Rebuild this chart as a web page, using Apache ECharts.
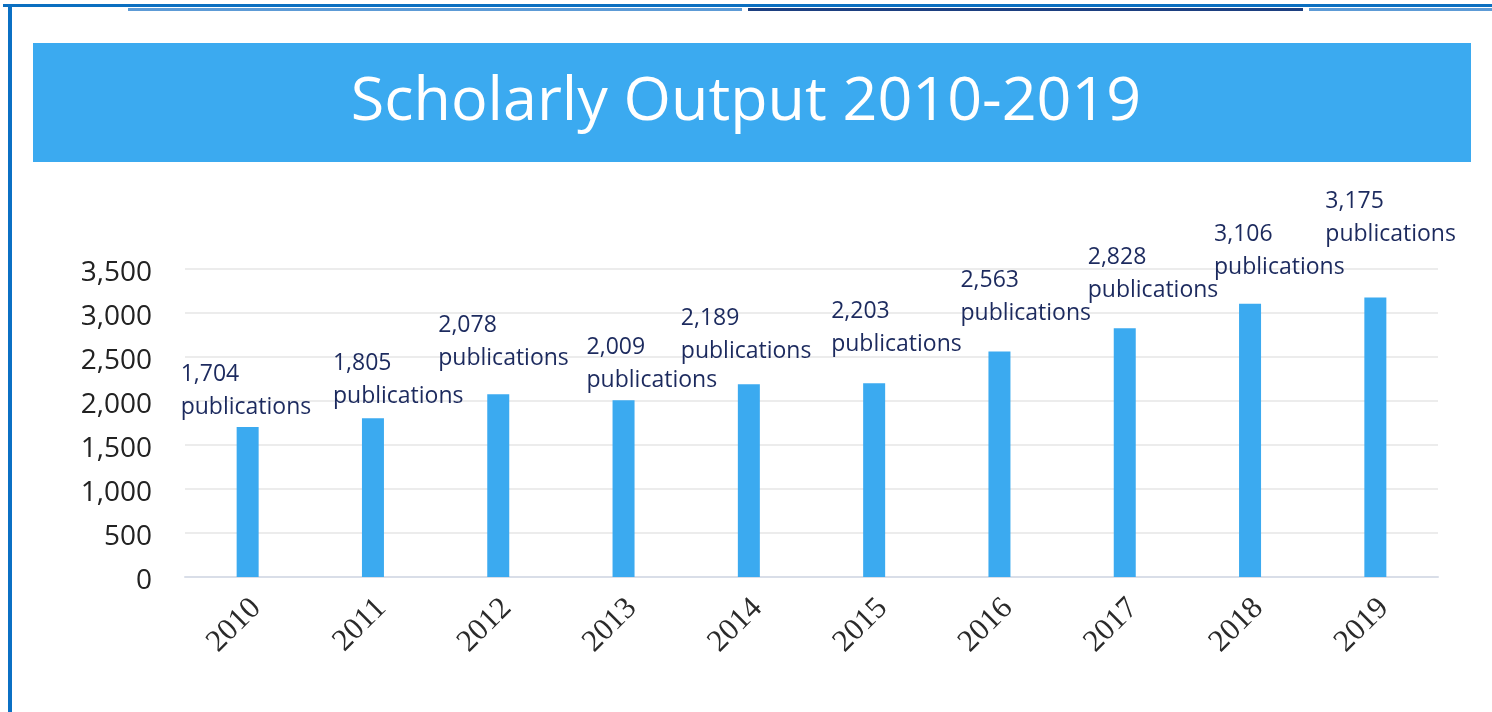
<!DOCTYPE html>
<html><head><meta charset="utf-8">
<script src="https://cdn.jsdelivr.net/npm/echarts@6/dist/echarts.min.js"></script>
<style>html,body{margin:0;padding:0;background:#fff;}#c{width:1492px;height:712px;}</style>
</head><body><div id="c"></div>
<script>
const years = ['2010','2011','2012','2013','2014','2015','2016','2017','2018','2019'];
const publications = [1704,1805,2078,2009,2189,2203,2563,2828,3106,3175];
const titleText = 'Scholarly Output 2010-2019';
const labelSuffix = 'publications';
// hand-placed label nudges (px, relative to each bar's top centre), as in the source figure
const labelDx = [-67,-40,-60,-37,-68,-43,-39,-37,-36,-50];
const labelDy = [-3.5,-5.7,-19.6,-3.7,-16.9,-22.6,-22,-21.6,-20.2,-47.1];

const chart = echarts.init(document.getElementById('c'), null, {renderer:'canvas'});
const fmt = v => Number(v).toLocaleString('en-US');
chart.setOption({
  animation:false,
  backgroundColor:'#ffffff',
  graphic:[
    {type:'rect', z:-1, shape:{x:3,y:4,width:1489,height:3}, style:{fill:'#0b6fc0'}},
    {type:'rect', z:-1, shape:{x:128,y:8,width:614,height:3}, style:{fill:'#5d9bd6'}},
    {type:'rect', z:-1, shape:{x:748,y:8,width:555,height:3}, style:{fill:'#1d3f80'}},
    {type:'rect', z:-1, shape:{x:1309,y:8,width:183,height:3}, style:{fill:'#5d9bd6'}},
    {type:'rect', z:-1, shape:{x:8,y:4,width:4,height:708}, style:{fill:'#0b70c4'}},
    {type:'rect', z:-1, shape:{x:33,y:43,width:1438,height:119}, style:{fill:'#3baaf0'}}
  ],
  title:{
    text:titleText, left:'center', top:67,
    textStyle:{color:'#ffffff', fontFamily:'Open Sans', fontSize:61, fontWeight:'normal'}
  },
  grid:{left:185, right:54, top:269, bottom:135},
  xAxis:{
    type:'category', data:years,
    axisLine:{lineStyle:{color:'#d9dee8', width:2}},
    axisTick:{show:false},
    axisLabel:{rotate:45, margin:18, verticalAlign:'top', lineHeight:24,
      color:'#2a2a2a', fontFamily:'Liberation Serif', fontSize:31}
  },
  yAxis:{
    type:'value', min:0, max:3500, interval:500,
    axisLine:{show:false}, axisTick:{show:false},
    splitLine:{lineStyle:{color:'#e6e6e6', width:1.5}},
    axisLabel:{margin:33, verticalAlign:'top', lineHeight:30, padding:[-11,0,0,0],
      color:'#222222', fontFamily:'Open Sans', fontSize:28, formatter:v=>fmt(v)}
  },
  series:[{
    type:'bar', barWidth:22,
    itemStyle:{color:'#3baaf0'},
    data:publications.map((v,i)=>({value:v, label:{offset:[labelDx[i], labelDy[i]]}})),
    label:{
      show:true, position:'top', distance:0, align:'left', verticalAlign:'bottom',
      fontFamily:'Open Sans', fontSize:23, lineHeight:33, color:'#1c2a5e',
      formatter:p=>fmt(p.value)+'\n'+labelSuffix
    }
  }]
});
</script></body></html>
